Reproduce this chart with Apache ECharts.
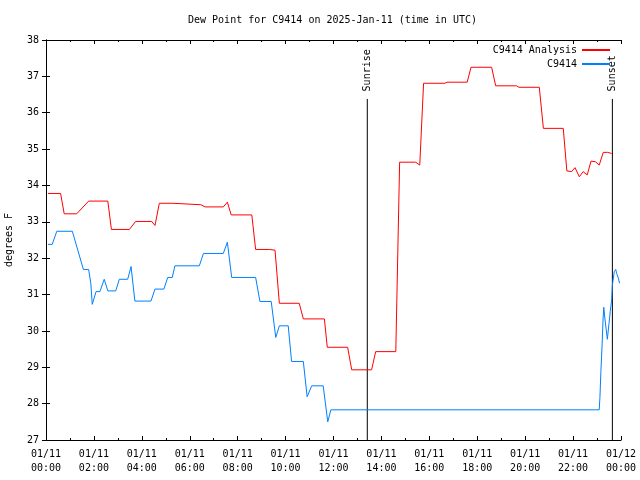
<!DOCTYPE html>
<html><head><meta charset="utf-8">
<script src="https://cdn.jsdelivr.net/npm/echarts@6/dist/echarts.min.js"></script>
<style>html,body{margin:0;padding:0;background:#fff}#c{width:640px;height:480px}</style>
</head><body><div id="c"></div>
<script>
// Hours since 2025-01-11 00:00 UTC
const analysisHours = [0.08,0.61,0.76,1.28,1.78,2.58,2.73,3.48,3.51,3.74,4.41,4.55,4.73,5.29,5.34,6.46,6.64,7.40,7.57,7.73,8.59,8.75,9.32,9.56,9.74,10.57,10.74,11.62,11.74,12.59,12.76,13.59,13.76,14.60,14.76,15.43,15.60,15.76,16.65,16.74,17.58,17.74,18.60,18.77,19.64,19.74,20.59,20.76,21.59,21.74,21.94,22.08,22.26,22.42,22.59,22.75,22.94,23.09,23.26,23.44,23.61];
const analysisDew = [33.78,33.78,33.22,33.22,33.57,33.57,32.79,32.79,32.77,33.01,33.01,32.90,33.51,33.51,33.47,33.47,33.41,33.41,33.54,33.19,33.19,32.24,32.24,32.22,30.76,30.76,30.33,30.33,29.55,29.55,28.93,28.93,29.43,29.43,34.64,34.64,34.56,36.81,36.81,36.84,36.84,37.25,37.25,36.74,36.74,36.70,36.70,35.57,35.57,34.40,34.38,34.49,34.24,34.38,34.29,34.67,34.65,34.56,34.91,34.91,34.88];

const obsHours = [0.08,0.26,0.45,1.10,1.56,1.78,1.87,1.93,2.09,2.25,2.43,2.58,2.91,3.06,3.41,3.55,3.71,4.38,4.55,4.92,5.08,5.27,5.38,6.40,6.57,7.40,7.57,7.75,8.75,8.93,9.40,9.59,9.74,10.11,10.25,10.74,10.90,11.09,11.57,11.76,11.89,23.09,23.12,23.16,23.21,23.25,23.28,23.33,23.43,23.50,23.55,23.61,23.64,23.72,23.78,23.82,23.89,23.94];
const obsDew = [32.38,32.38,32.74,32.74,31.69,31.69,31.31,30.73,31.08,31.08,31.42,31.10,31.10,31.42,31.42,31.77,30.82,30.82,31.15,31.15,31.47,31.47,31.79,31.79,32.13,32.13,32.44,31.47,31.47,30.81,30.81,29.82,30.14,30.14,29.16,29.16,28.19,28.49,28.49,27.50,27.83,27.83,28.16,28.88,29.59,30.30,30.65,30.33,29.77,30.21,30.53,30.85,31.26,31.63,31.69,31.58,31.45,31.31];

const sunEvents = ['Sunrise','Sunset'];
const sunHours = [13.41, 23.64];
const sunLineRange = [27, 36.38];

const xTickLabels = ['01/11\n00:00','01/11\n02:00','01/11\n04:00','01/11\n06:00','01/11\n08:00','01/11\n10:00','01/11\n12:00','01/11\n14:00','01/11\n16:00','01/11\n18:00','01/11\n20:00','01/11\n22:00','01/12\n00:00'];

const FONT = 'DejaVu Sans Mono';
const chart = echarts.init(document.getElementById('c'), null, {renderer:'canvas'});

const axisCommon = {
  axisLine:{show:true, lineStyle:{color:'#000', width:1}},
  axisTick:{show:true, inside:true, length:4, lineStyle:{color:'#000'}},
  splitLine:{show:false}
};

const sunSeries = sunEvents.map((name, i) => ({
  type:'line', name, silent:true, symbol:'circle', symbolSize:1, showSymbol:true, z:1,
  itemStyle:{color:'rgba(0,0,0,0)'},
  data:[
    {value:[sunHours[i], sunLineRange[0]], label:{show:false}},
    {value:[sunHours[i], sunLineRange[1]], label:{show:true, formatter:name, position:'top', rotate:90, align:'left', verticalAlign:'middle', distance:7, color:'#000', fontFamily:FONT, fontSize:10}}
  ],
  lineStyle:{color:'#000', width:1}
}));

chart.setOption({
  animation:false,
  backgroundColor:'#fff',
  title:{text:'Dew Point for C9414 on 2025-Jan-11 (time in UTC)', left:183, top:10,
    textStyle:{fontFamily:FONT, fontSize:10, fontWeight:'normal', color:'#000'}},
  legend:{data:['C9414 Analysis','C9414'], orient:'vertical', right:25, top:39, align:'right',
    itemWidth:28, itemHeight:2, itemGap:2, icon:'rect',
    textStyle:{fontFamily:FONT, fontSize:10, color:'#000', lineHeight:12}},
  grid:{left:46, right:19, top:40, bottom:40, containLabel:false, outerBoundsMode:'none'},
  xAxis:[
    Object.assign({type:'value', min:0, max:24, interval:2,
      minorTick:{show:true, splitNumber:2, length:2, lineStyle:{color:'#000'}},
      axisLabel:{show:true, margin:7, fontFamily:FONT, fontSize:10, color:'#000', lineHeight:14,
        formatter:v => xTickLabels[Math.round(v/2)]}}, axisCommon),
    Object.assign({type:'value', position:'top', min:0, max:24, interval:2,
      minorTick:{show:true, splitNumber:2, length:2, lineStyle:{color:'#000'}},
      axisLabel:{show:false}}, axisCommon)
  ],
  yAxis:[
    Object.assign({type:'value', min:27, max:38, interval:1, name:'degrees F', nameLocation:'middle', nameGap:32, nameRotate:90,
      nameTextStyle:{fontFamily:FONT, fontSize:10, color:'#000'},
      axisLabel:{show:true, margin:7, fontFamily:FONT, fontSize:10, color:'#000'}}, axisCommon),
    Object.assign({type:'value', position:'right', min:27, max:38, interval:1, axisLabel:{show:false}}, axisCommon)
  ],
  series:[
    {type:'line', name:'C9414 Analysis', symbol:'none', z:3, color:'#ff0000',
      lineStyle:{color:'#ff0000', width:1},
      data:analysisHours.map((h,i)=>[h, analysisDew[i]])},
    {type:'line', name:'C9414', symbol:'none', z:3, color:'#0080ff',
      lineStyle:{color:'#0080ff', width:1},
      data:obsHours.map((h,i)=>[h, obsDew[i]])},
    ...sunSeries
  ]
});
</script></body></html>
